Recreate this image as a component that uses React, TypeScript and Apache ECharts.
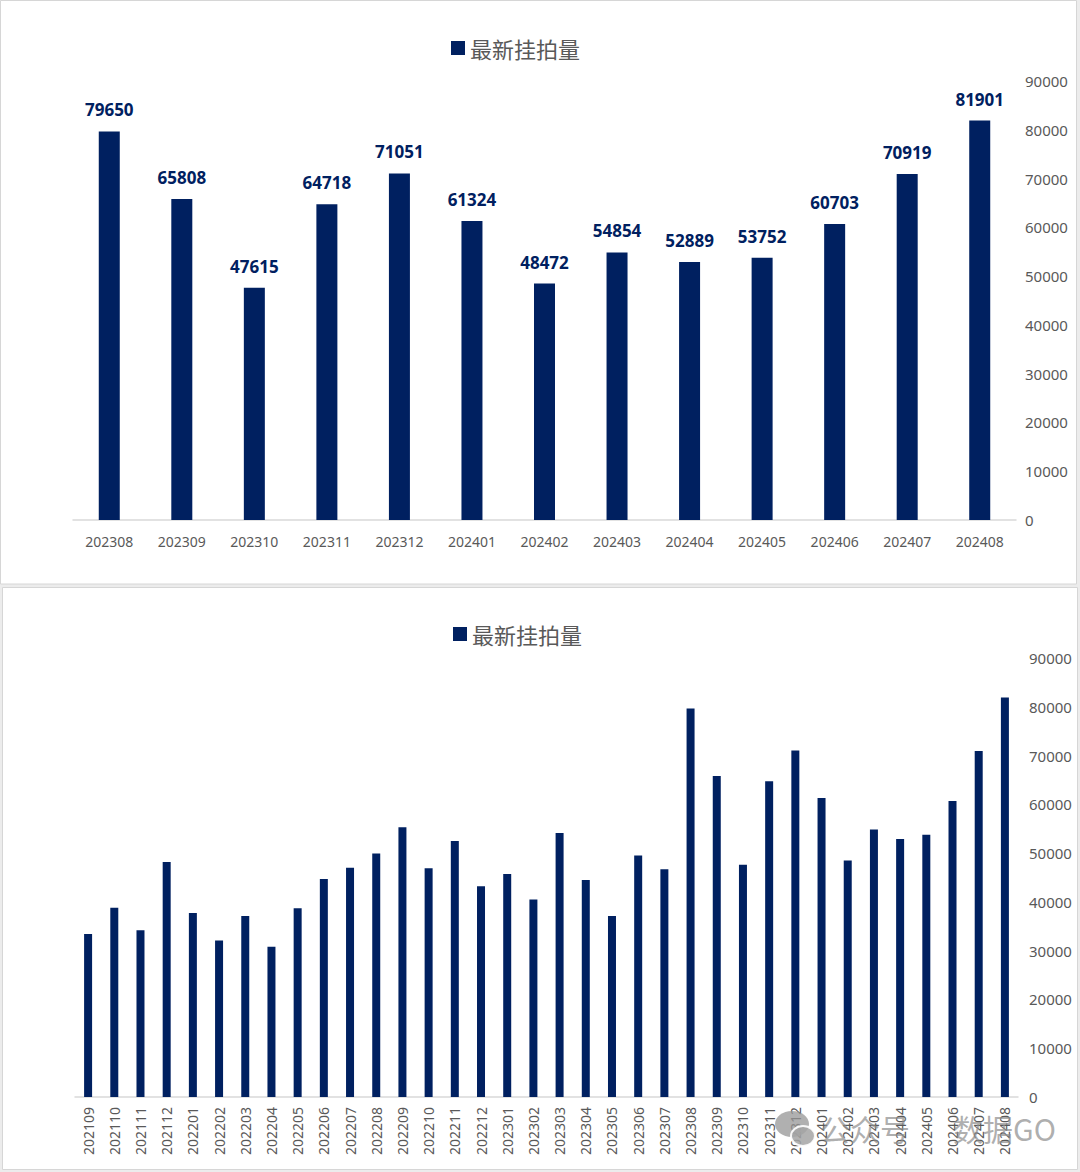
import React, { useEffect, useRef } from "react";
import * as echarts from "echarts";

const seriesName = "最新挂拍量";
const topCategories = ["202308", "202309", "202310", "202311", "202312", "202401", "202402", "202403", "202404", "202405", "202406", "202407", "202408"];
const topValues = [79650, 65808, 47615, 64718, 71051, 61324, 48472, 54854, 52889, 53752, 60703, 70919, 81901];
const allCategories = [
  "202109", "202110", "202111", "202112", "202201", "202202", "202203", "202204", "202205", "202206", "202207", "202208",
  "202209", "202210", "202211", "202212", "202301", "202302", "202303", "202304", "202305", "202306", "202307", "202308",
  "202309", "202310", "202311", "202312", "202401", "202402", "202403", "202404", "202405", "202406", "202407", "202408",
];
const allValues = [
  33400, 38800, 34200, 48200, 37700, 32100, 37100, 30800, 38700, 44700, 47000, 49900,
  55300, 46900, 52500, 43200, 45700, 40500, 54100, 44500, 37100, 49500, 46700, 79650,
  65808, 47615, 64718, 71051, 61324, 48472, 54854, 52889, 53752, 60703, 70919, 81901,
];
const yMin = 0;
const yMax = 90000;
const yInterval = 10000;

const BAR = "#002060";
const GRAY = "#595959";
const NUM_FONT = "'Noto Sans', 'Open Sans', sans-serif";
const CJK_FONT = "'Noto Sans CJK SC', 'Noto Sans', sans-serif";

export default function App() {
  const ref = useRef<HTMLDivElement>(null);
  useEffect(() => {
    if (!ref.current) return;
    const chart = echarts.init(ref.current, null, { renderer: "svg" });
    const yAxisCommon = {
      type: "value",
      position: "right",
      min: yMin,
      max: yMax,
      interval: yInterval,
      axisLine: { show: false },
      axisTick: { show: false },
      splitLine: { show: false },
    };
    const plain = (v: number) => String(v);
    chart.setOption({
      animation: false,
      backgroundColor: "#ececec",
      graphic: [
        { type: "rect", z: -10, shape: { x: 0.5, y: 0.5, width: 1076, height: 583.5 }, style: { fill: "#ffffff", stroke: "#d6d6d6", lineWidth: 1 } },
        { type: "rect", z: -10, shape: { x: 2.5, y: 587.5, width: 1075, height: 582 }, style: { fill: "#ffffff", stroke: "#d6d6d6", lineWidth: 1 } },
        { type: "ellipse", z: 100, shape: { cx: 792, cy: 1124, rx: 17, ry: 13 }, style: { fill: "rgba(150,150,150,0.75)" } },
        { type: "ellipse", z: 101, shape: { cx: 803, cy: 1136, rx: 12, ry: 10 }, style: { fill: "rgba(165,165,165,0.85)", stroke: "rgba(255,255,255,0.9)", lineWidth: 2 } },
        { type: "text", z: 100, x: 820, y: 1128, style: { text: "公众号", font: `30px ${CJK_FONT}`, fill: "rgba(140,140,140,0.7)", verticalAlign: "middle" } },
        { type: "text", z: 100, x: 953, y: 1128, style: { text: "数据GO", font: `30px ${CJK_FONT}`, fill: "rgba(140,140,140,0.7)", verticalAlign: "middle" } },
      ],
      legend: [
        {
          left: 451, top: 37, padding: 0, itemWidth: 14, itemHeight: 14, itemGap: 8,
          icon: "rect", data: [seriesName],
          textStyle: { color: GRAY, fontSize: 22, fontFamily: CJK_FONT, lineHeight: 14 },
          selectedMode: false,
        },
        {
          left: 453, top: 623, padding: 0, itemWidth: 14, itemHeight: 14, itemGap: 8,
          icon: "rect", data: [seriesName],
          textStyle: { color: GRAY, fontSize: 22, fontFamily: CJK_FONT, lineHeight: 14 },
          selectedMode: false,
        },
      ],
      grid: [
        { left: 73, width: 943, top: 81, height: 439 },
        { left: 75, width: 943, top: 658, height: 439 },
      ],
      xAxis: [
        {
          type: "category", gridIndex: 0, data: topCategories,
          axisLine: { lineStyle: { color: "#d9d9d9", width: 1.5 } },
          axisTick: { show: false },
          axisLabel: { color: GRAY, fontSize: 14, fontFamily: NUM_FONT, margin: 14, interval: 0 },
        },
        {
          type: "category", gridIndex: 1, data: allCategories,
          axisLine: { lineStyle: { color: "#d9d9d9", width: 1.5 } },
          axisTick: { show: false },
          axisLabel: { color: GRAY, fontSize: 14, fontFamily: NUM_FONT, margin: 10, interval: 0, rotate: 90 },
        },
      ],
      yAxis: [
        { ...yAxisCommon, gridIndex: 0, axisLabel: { color: GRAY, fontSize: 15, fontFamily: NUM_FONT, margin: 9, align: "left", formatter: plain } },
        { ...yAxisCommon, gridIndex: 1, axisLabel: { color: GRAY, fontSize: 15, fontFamily: NUM_FONT, margin: 11, align: "left", formatter: plain } },
      ],
      series: [
        {
          name: seriesName, type: "bar", xAxisIndex: 0, yAxisIndex: 0, data: topValues, barWidth: 21,
          itemStyle: { color: BAR },
          label: { show: true, position: "top", distance: 13, color: BAR, fontSize: 17, fontWeight: "bold", fontFamily: NUM_FONT },
        },
        {
          name: seriesName, type: "bar", xAxisIndex: 1, yAxisIndex: 1, data: allValues, barWidth: 8,
          itemStyle: { color: BAR },
        },
      ],
    });
    return () => chart.dispose();
  }, []);
  return <div ref={ref} style={{ position: "absolute", left: 0, top: 0, width: 1080, height: 1172 }} />;
}
